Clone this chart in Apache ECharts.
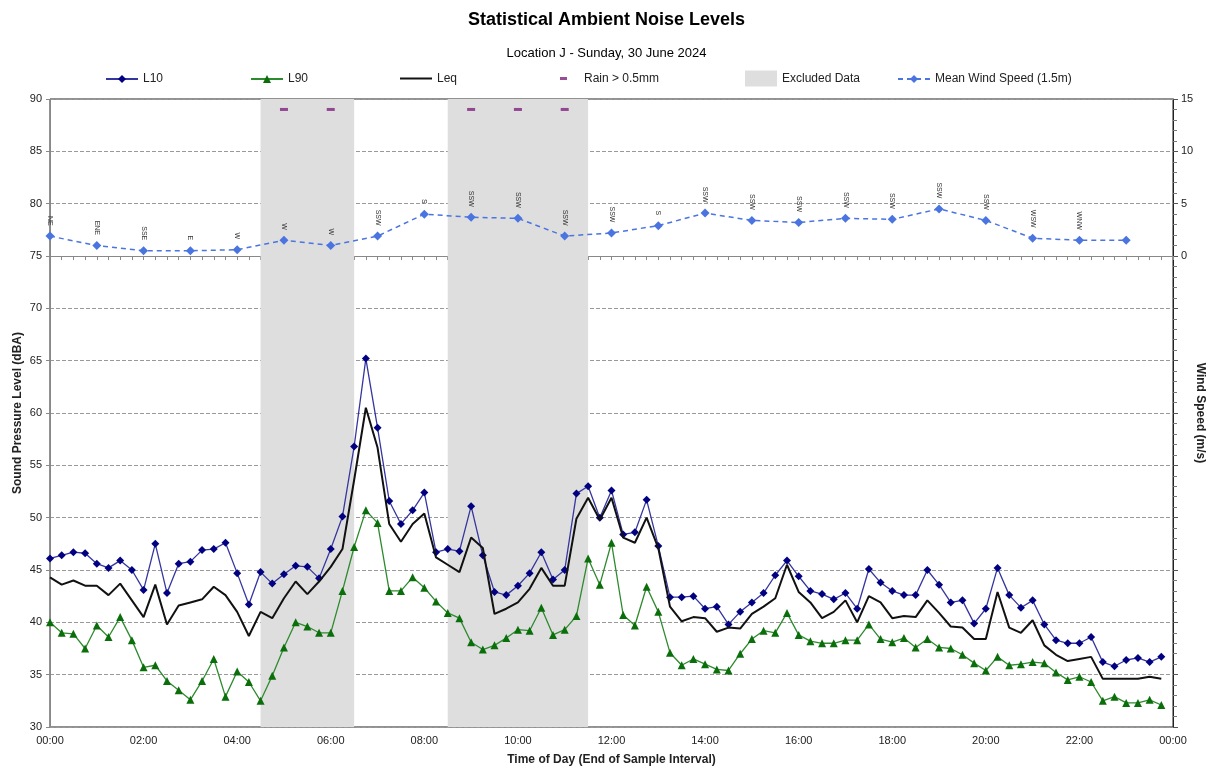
<!DOCTYPE html>
<html>
<head>
<meta charset="utf-8">
<script src="https://cdn.jsdelivr.net/npm/echarts@6/dist/echarts.min.js"></script>
<style>
html,body{margin:0;padding:0;background:#fff;}
#chart{width:1213px;height:769px;}
</style>
</head>
<body>
<div id="chart"></div>
<script>
// Time categories (end of 15-min sample interval)
var times = ['00:00','00:15','00:30','00:45','01:00','01:15','01:30','01:45','02:00','02:15','02:30','02:45',
 '03:00','03:15','03:30','03:45','04:00','04:15','04:30','04:45','05:00','05:15','05:30','05:45',
 '06:00','06:15','06:30','06:45','07:00','07:15','07:30','07:45','08:00','08:15','08:30','08:45',
 '09:00','09:15','09:30','09:45','10:00','10:15','10:30','10:45','11:00','11:15','11:30','11:45',
 '12:00','12:15','12:30','12:45','13:00','13:15','13:30','13:45','14:00','14:15','14:30','14:45',
 '15:00','15:15','15:30','15:45','16:00','16:15','16:30','16:45','17:00','17:15','17:30','17:45',
 '18:00','18:15','18:30','18:45','19:00','19:15','19:30','19:45','20:00','20:15','20:30','20:45',
 '21:00','21:15','21:30','21:45','22:00','22:15','22:30','22:45','23:00','23:15','23:30','23:45','24:00'];

var L10 = [46.1, 46.4, 46.7, 46.6, 45.6, 45.2, 45.9, 45.0, 43.1, 47.5,
 42.8, 45.6, 45.8, 46.9, 47.0, 47.6, 44.7, 41.7, 44.8, 43.7,
 44.6, 45.4, 45.3, 44.2, 47.0, 50.1, 56.8, 65.2, 58.6, 51.6,
 49.4, 50.7, 52.4, 46.7, 47.0, 46.8, 51.1, 46.4, 42.9, 42.6,
 43.5, 44.7, 46.7, 44.1, 45.0, 52.3, 53.0, 50.0, 52.6, 48.4,
 48.6, 51.7, 47.3, 42.4, 42.4, 42.5, 41.3, 41.5, 39.8, 41.0,
 41.9, 42.8, 44.5, 45.9, 44.4, 43.0, 42.7, 42.2, 42.8, 41.3,
 45.1, 43.8, 43.0, 42.6, 42.6, 45.0, 43.6, 41.9, 42.1, 39.9,
 41.3, 45.2, 42.6, 41.4, 42.1, 39.8, 38.3, 38.0, 38.0, 38.6,
 36.2, 35.8, 36.4, 36.6, 36.2, 36.7];

var L90 = [40.0, 39.0, 38.9, 37.5, 39.7, 38.6, 40.5, 38.3, 35.7, 35.9,
 34.4, 33.5, 32.6, 34.4, 36.5, 32.9, 35.3, 34.3, 32.5, 34.9,
 37.6, 40.0, 39.6, 39.0, 39.0, 43.0, 47.2, 50.7, 49.5, 43.0,
 43.0, 44.3, 43.3, 42.0, 40.9, 40.4, 38.1, 37.4, 37.8, 38.5,
 39.3, 39.2, 41.4, 38.8, 39.3, 40.6, 46.1, 43.6, 47.6, 40.7,
 39.7, 43.4, 41.0, 37.1, 35.9, 36.5, 36.0, 35.5, 35.4, 37.0,
 38.4, 39.2, 39.0, 40.9, 38.8, 38.2, 38.0, 38.0, 38.3, 38.3,
 39.8, 38.4, 38.1, 38.5, 37.6, 38.4, 37.6, 37.5, 36.9, 36.1,
 35.4, 36.7, 35.9, 36.0, 36.2, 36.1, 35.2, 34.5, 34.8, 34.3,
 32.5, 32.9, 32.3, 32.3, 32.6, 32.1];

var Leq = [44.3, 43.6, 44.0, 43.5, 43.5, 42.6, 43.7, 42.1, 40.5, 43.6,
 39.8, 41.6, 41.9, 42.2, 43.4, 42.6, 41.0, 38.7, 41.0, 40.4,
 42.3, 43.9, 42.7, 43.9, 45.3, 47.0, 53.6, 60.5, 56.7, 49.4,
 47.7, 49.4, 50.4, 46.2, 45.5, 44.8, 48.1, 47.1, 40.8, 41.3,
 41.9, 43.2, 45.2, 43.5, 43.5, 49.9, 51.9, 49.8, 51.9, 48.1,
 47.6, 50.0, 47.1, 41.5, 40.1, 40.5, 40.4, 39.1, 39.5, 39.4,
 40.8, 41.5, 42.3, 45.5, 42.9, 41.9, 40.4, 41.0, 42.1, 40.0,
 42.5, 41.9, 40.4, 40.6, 40.5, 42.1, 40.9, 39.6, 39.5, 38.4,
 38.4, 42.9, 39.5, 39.0, 40.2, 37.8, 36.9, 36.3, 36.5, 36.7,
 34.6, 34.6, 34.6, 34.6, 34.8, 34.6];

var windTimes = ['00:00','01:00','02:00','03:00','04:00','05:00','06:00','07:00','08:00','09:00','10:00','11:00',
 '12:00','13:00','14:00','15:00','16:00','17:00','18:00','19:00','20:00','21:00','22:00','23:00'];
var windSpeed = [1.9, 1.0, 0.5, 0.5, 0.6, 1.5, 1.0, 1.9, 4.0, 3.7, 3.6, 1.9,
 2.2, 2.9, 4.1, 3.4, 3.2, 3.6, 3.5, 4.5, 3.4, 1.7, 1.5, 1.5];
var windDir = ['NE','ENE','SSE','E','W','W','W','SSW','S','SSW','SSW','SSW',
 'SSW','S','SSW','SSW','SSW','SSW','SSW','SSW','SSW','WSW','WNW',''];

var rainTimes = ['05:00','06:00','09:00','10:00','11:00'];
var rainLevel = [89, 89, 89, 89, 89];

var excludedRanges = [['04:30','06:30'], ['08:30','11:30']];

var FONT = 'Liberation Sans, Arial, sans-serif';

var chart = echarts.init(document.getElementById('chart'), null, {renderer: 'canvas'});

function pairs(xs, ys) { return xs.map(function (x, i) { return [x, ys[i]]; }); }

var legendText = {fontSize: 12, color: '#222', fontFamily: FONT};

var option = {
  backgroundColor: '#fff',
  animation: false,
  textStyle: {fontFamily: FONT},
  title: [
    {text: 'Statistical Ambient Noise Levels', left: 'center', top: 6,
     textStyle: {fontFamily: FONT, fontSize: 18, fontWeight: 'bold', color: '#000'}},
    {text: 'Location J - Sunday, 30 June 2024', left: 'center', top: 42,
     textStyle: {fontFamily: FONT, fontSize: 13, fontWeight: 'normal', color: '#000'}}
  ],
  legend: [
    {data: ['L10'], left: 105, top: 73, padding: 0, itemWidth: 32, itemHeight: 10, textStyle: legendText},
    {data: ['L90'], left: 250, top: 73, padding: 0, itemWidth: 32, itemHeight: 10, textStyle: legendText},
    {data: [{name: 'Leq', icon: 'rect', itemStyle: {color: '#111'}}], left: 400, top: 72.5, padding: 0, itemWidth: 32, itemHeight: 2, textStyle: legendText},
    {data: [{name: 'Rain > 0.5mm', icon: 'rect'}], left: 560, top: 72.5, padding: 0, itemWidth: 7, itemHeight: 3, textStyle: Object.assign({}, legendText, {padding: [0, 0, 0, 12]})},
    {data: [{name: 'Excluded Data', icon: 'rect'}], left: 745, top: 70.5, padding: 0, itemWidth: 32, itemHeight: 16, textStyle: legendText},
    {data: ['Mean Wind Speed (1.5m)'], left: 897, top: 73, padding: 0, itemWidth: 32, itemHeight: 10, textStyle: legendText}
  ],
  grid: {left: 50, right: 40, top: 99, bottom: 42, outerBoundsMode: 'none', containLabel: false,
         show: true, borderColor: '#222', borderWidth: 1, backgroundColor: 'transparent'},
  xAxis: [{
    type: 'category',
    data: times,
    boundaryGap: false,
    name: 'Time of Day (End of Sample Interval)',
    nameLocation: 'middle',
    nameGap: 27,
    nameTextStyle: {fontFamily: FONT, fontSize: 12, fontWeight: 'bold', color: '#222'},
    axisLine: {lineStyle: {color: '#888', width: 1}},
    axisTick: {show: true, interval: 0, length: 4, lineStyle: {color: '#888'}},
    axisLabel: {interval: 7, fontSize: 11, color: '#222', margin: 8, fontFamily: FONT,
      formatter: function (v) { return v === '24:00' ? '00:00' : v; }},
    splitLine: {show: false}
  }],
  yAxis: [{
    type: 'value',
    min: 30, max: 90, interval: 5,
    name: 'Sound Pressure Level (dBA)',
    nameLocation: 'middle',
    nameMoveOverlap: false,
    nameGap: 26,
    nameTextStyle: {fontFamily: FONT, fontSize: 12, fontWeight: 'bold', color: '#222'},
    axisLine: {show: true, lineStyle: {color: '#888'}},
    axisTick: {show: true, length: 4, lineStyle: {color: '#888'}},
    axisLabel: {fontSize: 11, color: '#222', margin: 8, fontFamily: FONT},
    splitLine: {show: true, lineStyle: {color: '#999', type: [4, 2], width: 1}}
  }, {
    type: 'value',
    position: 'right',
    min: -45, max: 15, interval: 5,
    name: 'Wind Speed (m/s)',
    nameLocation: 'middle',
    nameMoveOverlap: false,
    nameRotate: -90,
    nameGap: 21,
    nameTextStyle: {fontFamily: FONT, fontSize: 12, fontWeight: 'bold', color: '#222'},
    axisLine: {show: true, lineStyle: {color: '#222'}},
    axisTick: {show: true, length: 5, lineStyle: {color: '#555'}},
    minorTick: {show: true, splitNumber: 5, length: 4, lineStyle: {color: '#777'}},
    axisLabel: {fontSize: 11, color: '#222', margin: 8, fontFamily: FONT,
      formatter: function (v) { return v >= 0 ? String(v) : ''; }},
    splitLine: {show: false}
  }],
  series: [
    {
      name: 'Excluded Data',
      type: 'line',
      data: [],
      itemStyle: {color: '#dedede'},
      lineStyle: {color: '#dedede'},
      z: 0,
      markArea: {
        silent: true,
        itemStyle: {color: '#dedede'},
        data: excludedRanges.map(function (r) {
          return [{xAxis: r[0], yAxis: 30}, {xAxis: r[1], yAxis: 90}];
        })
      }
    },
    {
      name: 'L10',
      type: 'line',
      data: L10,
      symbol: 'diamond',
      symbolSize: 8,
      showAllSymbol: true,
      itemStyle: {color: '#000080'},
      lineStyle: {color: '#3535a0', width: 1.3},
      z: 4
    },
    {
      name: 'L90',
      type: 'line',
      data: L90,
      symbol: 'triangle',
      symbolSize: 8,
      showAllSymbol: true,
      itemStyle: {color: '#0a6e0a'},
      lineStyle: {color: '#2e8a2e', width: 1.3},
      z: 3
    },
    {
      name: 'Leq',
      type: 'line',
      data: Leq,
      showSymbol: false,
      symbol: 'none',
      itemStyle: {color: '#111'},
      lineStyle: {color: '#111', width: 2},
      z: 5
    },
    {
      name: 'Rain > 0.5mm',
      type: 'scatter',
      data: pairs(rainTimes, rainLevel),
      symbol: 'rect',
      symbolSize: [8, 3],
      itemStyle: {color: '#80207f'},
      z: 6
    },
    {
      name: 'Mean Wind Speed (1.5m)',
      type: 'line',
      yAxisIndex: 1,
      data: pairs(windTimes, windSpeed),
      symbol: 'diamond',
      symbolSize: 9,
      showAllSymbol: true,
      itemStyle: {color: '#4a74e0'},
      lineStyle: {color: '#4a74e0', width: 1.5, type: [5, 4]},
      label: {
        show: true,
        position: 'top',
        distance: 6,
        rotate: -90,
        align: 'right',
        verticalAlign: 'middle',
        fontSize: 7,
        color: '#333',
        fontFamily: FONT,
        formatter: function (p) { return windDir[p.dataIndex]; }
      },
      z: 6
    }
  ]
};

chart.setOption(option);
</script>
</body>
</html>
